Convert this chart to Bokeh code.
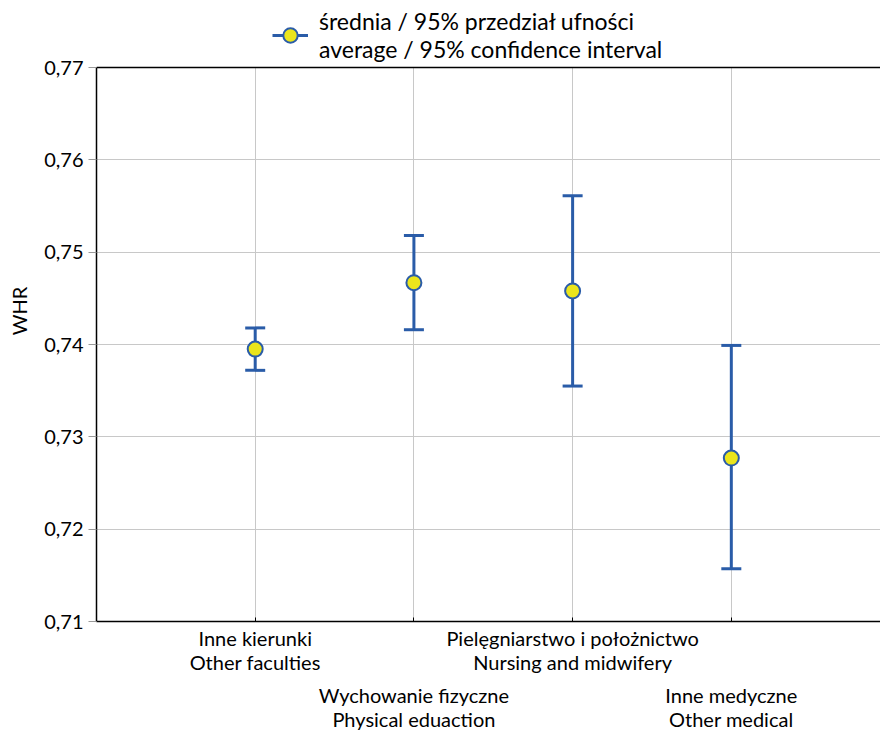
from bokeh.plotting import figure
from bokeh.models import (ColumnDataSource, FixedTicker, LinearAxis, Legend,
                          LegendItem, Range1d, Span)
from bokeh.embed import file_html
from bokeh.resources import INLINE

# ---- data ----
cat_pl = ["Inne kierunki", "Wychowanie fizyczne", "Pielęgniarstwo i położnictwo", "Inne medyczne"]
cat_en = ["Other faculties", "Physical eduaction", "Nursing and midwifery", "Other medical"]
positions = [1, 2, 3, 4]
means = [0.7395, 0.7467, 0.7458, 0.7277]
lower = [0.7372, 0.7416, 0.7355, 0.7157]
upper = [0.7418, 0.7518, 0.7561, 0.7399]
y_ticks = [0.71, 0.72, 0.73, 0.74, 0.75, 0.76, 0.77]
y_tick_labels = ["0,71", "0,72", "0,73", "0,74", "0,75", "0,76", "0,77"]
legend_label = "średnia / 95% przedział ufności\naverage / 95% confidence interval"

BLUE = "#2a5ca8"
YELLOW = "#ebe51c"
GRID = "#c8c8c8"
FONT = "Lato"

src = ColumnDataSource(dict(x=positions, mean=means, lo=lower, hi=upper))

y_min, y_max = y_ticks[0], y_ticks[-1]
PLOT_H, HEADER_H = 554, 67                  # axis box height + legend strip above it (px)
y_top = y_min + (y_max - y_min) * (PLOT_H + HEADER_H) / PLOT_H

p = figure(frame_width=784, frame_height=PLOT_H + HEADER_H, output_backend="svg",
           toolbar_location=None,
           x_range=Range1d(0, 4.94), y_range=Range1d(y_min, y_top),
           x_axis_location=None, y_axis_location=None,
           min_border_left=96, min_border_right=0, min_border_top=0, min_border_bottom=10)
p.outline_line_color = None
p.background_fill_color = "white"
p.border_fill_color = "white"

yax = LinearAxis(ticker=FixedTicker(ticks=y_ticks),
                 major_label_overrides={t: s for t, s in zip(y_ticks, y_tick_labels)},
                 axis_label="WHR", bounds=(y_min, y_max))
yax.axis_line_color = "black"
yax.axis_line_width = 1.5
yax.major_tick_line_color = "#999999"
yax.major_tick_out = 8
yax.major_tick_in = 0
yax.minor_tick_line_color = None
yax.major_label_text_font = FONT
yax.major_label_text_font_size = "20px"
yax.major_label_text_color = "black"
yax.major_label_standoff = 5
yax.axis_label_text_font = FONT
yax.axis_label_text_font_size = "20px"
yax.axis_label_text_font_style = "normal"
yax.axis_label_text_color = "black"
yax.axis_label_standoff = 10
p.add_layout(yax, "left")

labels = {x: f"{a}\n{b}" for x, a, b in zip(positions, cat_pl, cat_en)}

bax1 = LinearAxis(ticker=FixedTicker(ticks=positions),
                  major_label_overrides={x: (labels[x] if i % 2 == 0 else "") for i, x in enumerate(positions)})
bax1.axis_line_color = "black"
bax1.axis_line_width = 1.5
bax1.major_tick_in = 4
bax1.major_tick_out = 0
bax1.major_tick_line_color = "black"
bax1.minor_tick_line_color = None
bax1.major_label_text_font = FONT
bax1.major_label_text_font_size = "20px"
bax1.major_label_text_color = "black"
bax1.major_label_text_line_height = 1.0
bax1.major_label_standoff = 4
p.add_layout(bax1, "below")

bax2 = LinearAxis(ticker=FixedTicker(ticks=positions),
                  major_label_overrides={x: (labels[x] if i % 2 == 1 else "") for i, x in enumerate(positions)})
bax2.axis_line_color = None
bax2.major_tick_line_color = None
bax2.minor_tick_line_color = None
bax2.major_label_text_font = FONT
bax2.major_label_text_font_size = "20px"
bax2.major_label_text_color = "black"
bax2.major_label_text_line_height = 1.0
bax2.major_label_standoff = 0
p.add_layout(bax2, "below")

# grid: horizontal lines at y ticks, vertical lines at categories limited to the axis box
p.ygrid.ticker = FixedTicker(ticks=y_ticks)
p.ygrid.grid_line_color = GRID
xg = p.xgrid[0]
if "cross_bounds" in xg.properties():
    xg.ticker = FixedTicker(ticks=positions)
    xg.grid_line_color = GRID
    xg.cross_bounds = (y_min, y_max)
else:
    xg.visible = False
    p.segment(x0=positions, x1=positions, y0=[y_min] * len(positions), y1=[y_max] * len(positions),
              line_color=GRID, line_width=1, level="underlay")

# top border of the axis box
p.add_layout(Span(location=y_max, dimension="width", line_color="black", line_width=1.5))

# error bars
seg = p.segment(x0="x", y0="lo", x1="x", y1="hi", source=src, line_color=BLUE, line_width=3)
p.scatter(x="x", y="lo", source=src, marker="dash", size=20, line_color=BLUE, line_width=3)
p.scatter(x="x", y="hi", source=src, marker="dash", size=20, line_color=BLUE, line_width=3)
dots = p.scatter(x="x", y="mean", source=src, marker="circle", size=15,
                 fill_color=YELLOW, line_color=BLUE, line_width=2)

legend = Legend(items=[LegendItem(label=legend_label, renderers=[seg, dots])],
                location=(176, PLOT_H + 4))
legend.label_text_font = FONT
legend.label_text_font_size = "23px"
legend.label_text_color = "black"
legend.label_text_line_height = 1.0
legend.label_standoff = 11
legend.glyph_width = 36
legend.glyph_height = 54
legend.border_line_color = None
legend.background_fill_alpha = 0
legend.margin = 0
legend.padding = 2
p.add_layout(legend, "center")

open("out.html", "w").write(file_html(p, INLINE))
